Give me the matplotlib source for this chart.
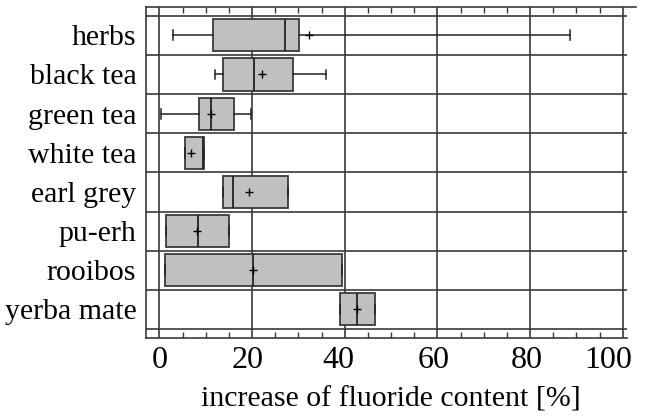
import matplotlib
matplotlib.use("Agg")
import matplotlib.pyplot as plt
from matplotlib.ticker import MultipleLocator
from matplotlib.transforms import ScaledTranslation

plt.rcParams['font.family'] = ['Liberation Serif', 'DejaVu Serif']

# box statistics (increase of fluoride content, %)
teas = ["herbs", "black tea", "green tea", "white tea",
        "earl grey", "pu-erh", "rooibos", "yerba mate"]
whislo = [3.0, 12.0, 0.3, 5.5, 13.7, 1.4, 1.1, 38.9]
q1 = [11.6, 13.7, 8.6, 5.5, 13.7, 1.4, 1.1, 38.9]
med = [27.0, 20.5, 11.2, 9.5, 15.9, 8.3, 20.3, 42.7]
q3 = [30.1, 28.8, 16.1, 9.6, 27.8, 15.0, 39.4, 46.6]
whishi = [88.5, 36.0, 19.8, 9.6, 27.8, 15.0, 39.4, 46.6]
means = [32.2, 22.1, 11.2, 6.9, 19.3, 8.2, 20.3, 42.7]
xticks = [0, 20, 40, 60, 80, 100]

line_col = "#3a3a3a"

stats = []
for i in range(len(teas)):
    stats.append({"label": teas[i], "whislo": whislo[i], "q1": q1[i],
                  "med": med[i], "q3": q3[i], "whishi": whishi[i],
                  "mean": means[i], "fliers": []})

n = len(teas)
pos = list(range(n, 0, -1))

fig = plt.figure(figsize=(6.45, 4.16), dpi=100)
ax = fig.add_axes([146 / 645, 1 - 338 / 416, 490 / 645, 331.3 / 416])

ax.bxp(stats, positions=pos, vert=False, widths=0.82, capwidths=0.25,
       showmeans=True, patch_artist=True, manage_ticks=False,
       boxprops=dict(facecolor="#c0c0c0", edgecolor=line_col, linewidth=1.3),
       medianprops=dict(color="#222222", linewidth=1.3),
       whiskerprops=dict(color="#222222", linewidth=1.1),
       capprops=dict(color="#222222", linewidth=1.1),
       meanprops=dict(marker="+", markeredgecolor="black", markersize=6,
                      markeredgewidth=1.0))

xmin, xmax = -2.9, 102.85
ax.set_xlim(xmin, xmax)
ax.set_ylim(0.27, n + 0.73)

# grid
for v in xticks:
    ax.axvline(v, color=line_col, lw=1.2, zorder=0)
for k in range(n + 1):
    ax.hlines(k + 0.5, xmin, 101, color=line_col, lw=1.2, zorder=0)

ax.spines["right"].set_visible(False)
ax.spines["bottom"].set_bounds(xmin, 101)
for s in ["top", "bottom", "left"]:
    ax.spines[s].set_color(line_col)
    ax.spines[s].set_linewidth(1.2)

ax.set_yticks(pos)
ax.set_yticklabels(teas, fontsize=21.5)
ax.set_xticks(xticks)
ax.xaxis.set_minor_locator(MultipleLocator(5))
ax.tick_params(axis="y", length=0, pad=7)
ax.tick_params(axis="x", which="major", length=0, labelsize=23, pad=6)
ax.tick_params(axis="x", which="minor", direction="in", length=4,
               width=1.0, color=line_col, top=True, bottom=True)
ax.set_xlabel("increase of fluoride content [%]", fontsize=21.5, labelpad=8)

# the tick labels sit a bit left of their grid lines, the last one most
shifts = [0, -4, -6, -4, -3, -15]
for lab, dx in zip(ax.get_xticklabels(), shifts):
    lab.set_transform(lab.get_transform() + ScaledTranslation(dx / 100, 0, fig.dpi_scale_trans))

fig.savefig("out.png", dpi=100)
